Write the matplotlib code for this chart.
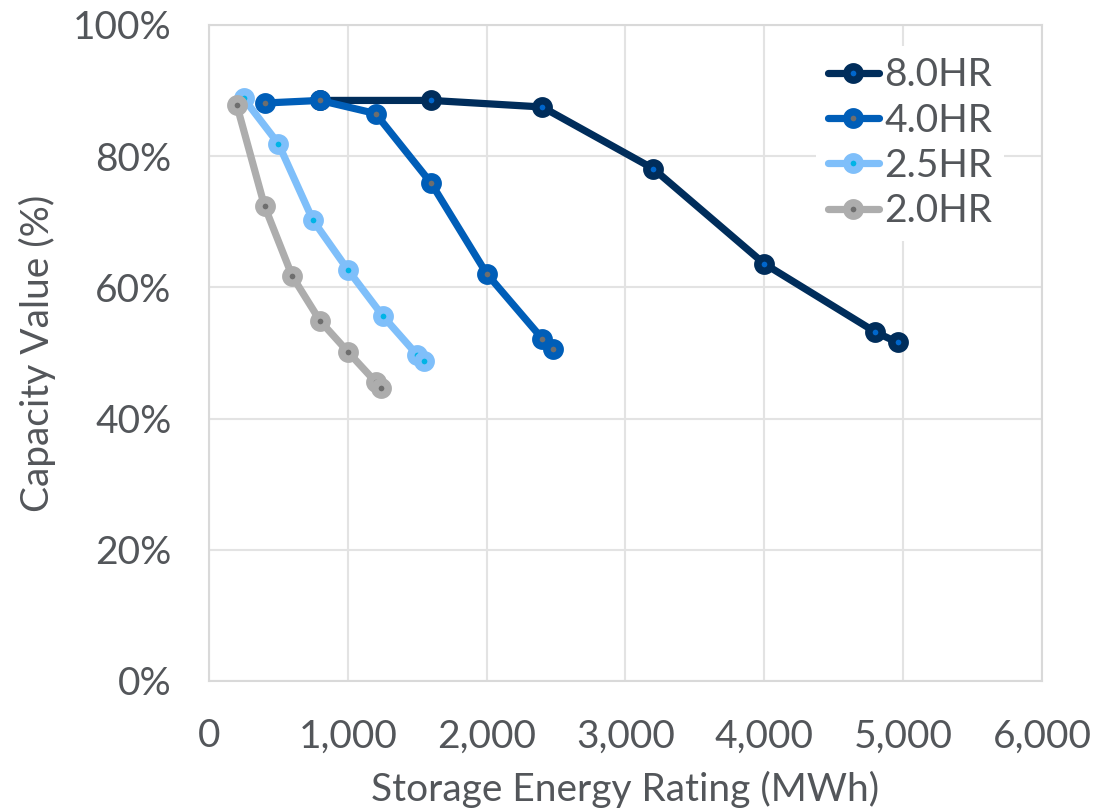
import matplotlib
matplotlib.use("Agg")
import matplotlib.pyplot as plt
from matplotlib.ticker import FuncFormatter, MultipleLocator

plt.rcParams['font.family'] = ['Lato', 'DejaVu Sans']

# storage energy rating (MWh) and capacity value (%) per duration
labels = ['8.0HR', '4.0HR', '2.5HR', '2.0HR']
x_8hr = [800, 1600, 2400, 3200, 4000, 4800, 4960]
y_8hr = [88.5, 88.5, 87.5, 78.1, 63.6, 53.2, 51.6]
x_4hr = [400, 800, 1200, 1600, 2000, 2400, 2480]
y_4hr = [88.1, 88.5, 86.5, 75.9, 62.1, 52.2, 50.6]
x_25hr = [250, 500, 750, 1000, 1250, 1500, 1550]
y_25hr = [88.8, 81.9, 70.2, 62.7, 55.7, 49.7, 48.8]
x_2hr = [200, 400, 600, 800, 1000, 1200, 1240]
y_2hr = [87.8, 72.4, 61.7, 54.9, 50.2, 45.6, 44.7]

line_colors = ['#002D5B', '#005EB8', '#7FBFFA', '#ADADAD']
dot_colors = ['#0066CC', '#6E6E6E', '#00B4E6', '#6E6E6E']
text_color = '#53565A'
grid_color = '#E3E3E3'


def main():
    fig = plt.figure(figsize=(11.17, 8.11), dpi=100)
    ax = fig.add_axes([0.1871, 0.1603, 0.7457, 0.8089])

    series = [(x_8hr, y_8hr), (x_4hr, y_4hr), (x_25hr, y_25hr), (x_2hr, y_2hr)]
    for (xs, ys), lab, lc, dc in zip(series, labels, line_colors, dot_colors):
        ax.plot(xs, ys, color=lc, lw=5.2, marker='o', ms=9.6, mew=5.4,
                mfc=dc, mec=lc, label=lab, solid_capstyle='round')

    ax.set_xlim(0, 6000)
    ax.set_ylim(0, 100)
    ax.xaxis.set_major_locator(MultipleLocator(1000))
    ax.yaxis.set_major_locator(MultipleLocator(20))
    ax.xaxis.set_major_formatter(FuncFormatter(lambda v, p: f'{int(v):,}'))
    ax.yaxis.set_major_formatter(FuncFormatter(lambda v, p: f'{int(v)}%'))
    ax.grid(True, color=grid_color, lw=1.5)
    ax.set_axisbelow(True)
    for s in ax.spines.values():
        s.set_color('#D9D9D9')
        s.set_linewidth(1.5)
    ax.tick_params(length=0, labelsize=28, labelcolor=text_color, pad=27)

    ax.set_xlabel('Storage Energy Rating (MWh)', fontsize=28, color=text_color, labelpad=12)
    ax.set_ylabel('Capacity Value (%)', fontsize=28, color=text_color, labelpad=12)

    leg = ax.legend(loc='upper right', fontsize=28, frameon=True, framealpha=1,
                    edgecolor='none', facecolor='white', handlelength=1.3,
                    handletextpad=0.15, labelspacing=0.24, borderpad=0.3,
                    labelcolor=text_color, bbox_to_anchor=(0.978, 0.998))
    leg.get_frame().set_linewidth(0)

    fig.savefig('out.png', dpi=100)


if __name__ == "__main__":
    main()
